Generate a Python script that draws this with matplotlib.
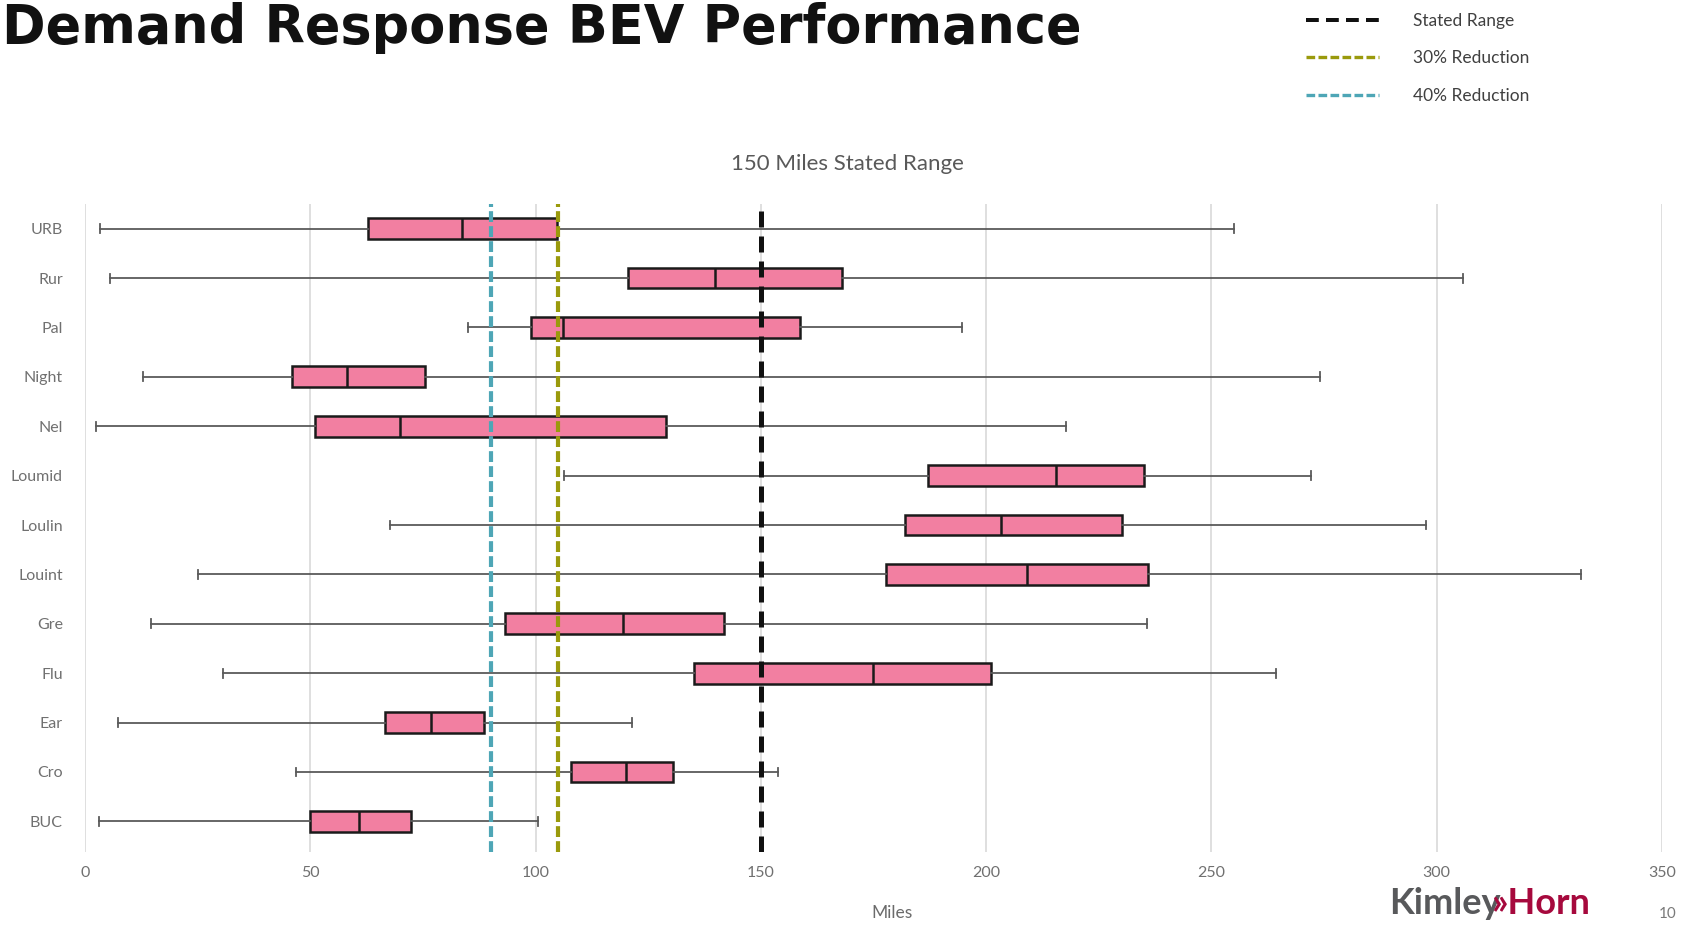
import numpy as np
import matplotlib
matplotlib.use("Agg")
import matplotlib.pyplot as plt
from matplotlib.lines import Line2D

# categories bottom -> top
routes = ["BUC", "Cro", "Ear", "Flu", "Gre", "Louint", "Loulin", "Loumid", "Nel", "Night", "Pal", "Rur", "URB"]
whisker_lo = [3.1, 46.9, 7.4, 30.7, 14.6, 25.1, 67.8, 106.3, 2.4, 12.9, 85.0, 5.5, 3.4]
q1 = [50.0, 107.9, 66.6, 135.1, 93.2, 177.8, 182.1, 187.1, 51.0, 46.0, 98.9, 120.5, 62.8]
median = [60.8, 120.0, 76.9, 174.9, 119.3, 209.1, 203.3, 215.6, 70.0, 58.2, 106.0, 139.9, 83.6]
q3 = [72.3, 130.5, 88.6, 201.1, 141.9, 235.9, 230.1, 235.0, 129.0, 75.4, 158.6, 167.9, 104.7]
whisker_hi = [100.6, 153.8, 121.4, 264.3, 235.7, 332.0, 297.7, 272.1, 217.7, 274.0, 194.7, 305.9, 254.9]

stated_range = 150
reductions = [0.30, 0.40]
ref_labels = ["Stated Range", "30% Reduction", "40% Reduction"]
ref_colors = ["#111111", "#9a9a0c", "#4ea6b6"]

xticks = [0, 50, 100, 150, 200, 250, 300, 350]

W, H = 1688, 925
fig = plt.figure(figsize=(W / 100, H / 100), dpi=100)
ax = fig.add_axes([85 / W, 1 - 852 / H, (1662 - 85) / W, (852 - 204) / H])

stats = []
for i in range(len(routes)):
    stats.append(dict(whislo=whisker_lo[i], q1=q1[i], med=median[i], q3=q3[i],
                      whishi=whisker_hi[i], label=routes[i], fliers=[]))

# grid first
for x in xticks:
    ax.axvline(x, color="#d9d9d9", lw=1.2, zorder=0)

ax.bxp(stats, positions=range(len(routes)), orientation="horizontal", widths=0.42,
       patch_artist=True, showfliers=False, capwidths=0.18,
       boxprops=dict(facecolor="#f27fa1", edgecolor="#1a1a1a", linewidth=1.8),
       medianprops=dict(color="#1a1a1a", linewidth=1.8),
       whiskerprops=dict(color="#5a5a5a", linewidth=1.3),
       capprops=dict(color="#5a5a5a", linewidth=1.3),
       zorder=2)

# reference lines
ref_x = [stated_range] + [stated_range * (1 - r) for r in reductions]
dashes = [(3.2, 1.8), (2.6, 1.0), (2.6, 1.0)]
widths = [3.6, 3.0, 3.0]
handles = []
for xv, c, d, lw, lab in zip(ref_x, ref_colors, dashes, widths, ref_labels):
    ax.axvline(xv, color=c, lw=lw, dashes=d, zorder=4, label=lab)
    handles.append(Line2D([], [], color=c, lw=lw * 0.8, dashes=d))

ax.set_xlim(0, 350)
ax.set_ylim(-0.62, 12.5)
ax.set_xticks(xticks)
ax.set_yticks(range(len(routes)))
ax.set_yticklabels(routes)
for s in ax.spines.values():
    s.set_visible(False)
ax.tick_params(axis="both", length=0, colors="#707070", labelsize=11.5)
ax.tick_params(axis="y", pad=16)
ax.tick_params(axis="x", pad=10)
for lbl in ax.get_xticklabels() + ax.get_yticklabels():
    lbl.set_family("Lato")

# titles
fig.text(2 / W, 1 - 43 / H, "Demand Response BEV Performance", ha="left", va="baseline",
         fontsize=37.8, fontweight="heavy", family="DejaVu Sans", color="#111111")
fig.text(847 / W, 1 - 164 / H, "150 Miles Stated Range", ha="center", va="center",
         fontsize=16, family="Lato", color="#595959")
fig.text(892 / W, 1 - 913 / H, "Miles", ha="center", va="center",
         fontsize=12.5, family="Lato", color="#6b6b6b")

# legend
fig.legend(handles, ref_labels, loc="upper left", bbox_to_anchor=(1290 / W, 1 + 3 / H),
           frameon=False, handlelength=4.2, handletextpad=2.0, labelspacing=1.25,
           prop=dict(family="Lato", size=12.5), labelcolor="#404040")

# logo
fig.text(1389 / W, 1 - 914 / H, "Kimley", ha="left", va="baseline", fontsize=26,
         family="Lato", fontweight="bold", color="#58595b")
fig.text(1492 / W, 1 - 914 / H, "\u00bbHorn", ha="left", va="baseline", fontsize=26,
         family="Lato", fontweight="bold", color="#a6093d")
fig.text(1668 / W, 1 - 914 / H, "10", ha="center", va="center", fontsize=11,
         family="Lato", color="#7a7a7a")

fig.savefig("out.png", dpi=100)
